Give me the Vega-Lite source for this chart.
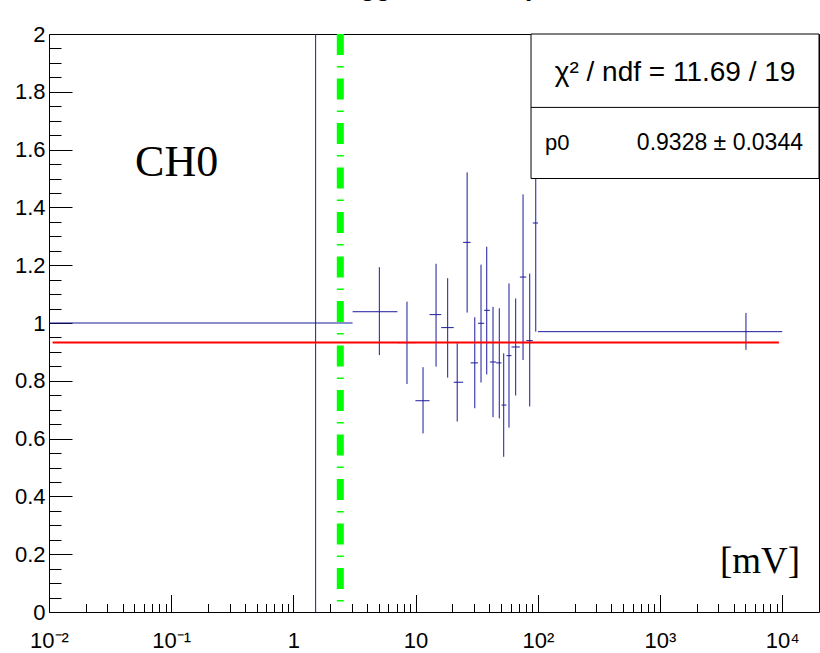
{
  "$schema": "https://vega.github.io/schema/vega-lite/v6.json",
  "width": 770,
  "height": 578,
  "autosize": {"type": "none"},
  "padding": {"left": 49, "top": 34, "right": 1, "bottom": 41},
  "background": "white",
  "title": {
    "text": "Trigger efficiency",
    "font": "Liberation Sans",
    "fontSize": 28,
    "fontWeight": "normal",
    "color": "#000",
    "anchor": "middle",
    "frame": "group",
    "baseline": "alphabetic",
    "offset": 0
  },
  "config": {
    "view": {"stroke": "#000", "strokeWidth": 1},
    "axis": {
      "labelFont": "Liberation Sans",
      "labelFontSize": 22,
      "labelColor": "#000",
      "tickColor": "#000",
      "tickWidth": 1,
      "domain": false,
      "grid": false,
      "zindex": 1
    }
  },
  "datasets": {
    "eff": [
      {"x": 1.52, "xlo": 0.01, "xhi": 3.05, "y": 1.0, "ylo": 0.0, "yhi": 2.0},
      {"x": 5.05, "xlo": 3.05, "xhi": 7.1, "y": 1.039, "ylo": 0.889, "yhi": 1.193},
      {"x": 8.5, "xlo": 7.1, "xhi": 9.96, "y": 0.932, "ylo": 0.789, "yhi": 1.074},
      {"x": 11.5, "xlo": 9.96, "xhi": 13.0, "y": 0.731, "ylo": 0.618, "yhi": 0.847},
      {"x": 14.7, "xlo": 13.0, "xhi": 16.2, "y": 1.029, "ylo": 0.849, "yhi": 1.205},
      {"x": 18.3, "xlo": 16.2, "xhi": 20.5, "y": 0.984, "ylo": 0.811, "yhi": 1.155},
      {"x": 21.9, "xlo": 20.5, "xhi": 24.5, "y": 0.795, "ylo": 0.659, "yhi": 0.93},
      {"x": 26.4, "xlo": 24.5, "xhi": 28.2, "y": 1.279, "ylo": 1.036, "yhi": 1.521},
      {"x": 30.5, "xlo": 28.2, "xhi": 32.4, "y": 0.862, "ylo": 0.705, "yhi": 1.02},
      {"x": 34.3, "xlo": 32.4, "xhi": 36.4, "y": 0.999, "ylo": 0.794, "yhi": 1.202},
      {"x": 38.2, "xlo": 36.4, "xhi": 40.5, "y": 1.044, "ylo": 0.822, "yhi": 1.264},
      {"x": 43.0, "xlo": 40.5, "xhi": 45.6, "y": 0.865, "ylo": 0.674, "yhi": 1.056},
      {"x": 48.4, "xlo": 45.6, "xhi": 50.5, "y": 0.862, "ylo": 0.67, "yhi": 1.051},
      {"x": 52.6, "xlo": 50.5, "xhi": 55.4, "y": 0.716, "ylo": 0.537, "yhi": 0.895},
      {"x": 58.1, "xlo": 55.4, "xhi": 60.9, "y": 0.887, "ylo": 0.638, "yhi": 1.137},
      {"x": 65.9, "xlo": 60.9, "xhi": 71.3, "y": 0.917, "ylo": 0.749, "yhi": 1.085},
      {"x": 75.7, "xlo": 71.3, "xhi": 80.5, "y": 1.159, "ylo": 0.872, "yhi": 1.445},
      {"x": 85.9, "xlo": 80.5, "xhi": 91.0, "y": 0.939, "ylo": 0.711, "yhi": 1.171},
      {"x": 96.2, "xlo": 91.0, "xhi": 100.4, "y": 1.346, "ylo": 0.97, "yhi": 1.722},
      {"x": 5050, "xlo": 100.4, "xhi": 10000, "y": 0.97, "ylo": 0.907, "yhi": 1.035}
    ],
    "one": [{}]
  },
  "layer": [
    {
      "data": {"name": "eff"},
      "mark": {"type": "rule", "color": "#1a1a9c", "strokeWidth": 1, "clip": true},
      "encoding": {
        "x": {
          "field": "x", "type": "quantitative",
          "scale": {"type": "log", "domain": [0.01, 20000], "nice": false},
          "axis": {
            "orient": "bottom", "title": null,
            "values": [0.01, 0.1, 1, 10, 100, 1000, 10000],
            "labelExpr": "datum.value < 0.05 ? '10⁻²' : datum.value < 0.5 ? '10⁻¹' : datum.value < 5 ? '1' : datum.value < 50 ? '10' : datum.value < 500 ? '10²' : datum.value < 5000 ? '10³' : '10⁴'",
            "tickSize": -17.5, "labelPadding": 36,
            "labelFlush": false, "labelOverlap": false, "labelBound": false
          }
        },
        "y": {
          "field": "ylo", "type": "quantitative",
          "scale": {"domain": [0, 2], "nice": false, "zero": false},
          "axis": {
            "orient": "left", "title": null,
            "values": [0, 0.2, 0.4, 0.6, 0.8, 1, 1.2, 1.4, 1.6, 1.8, 2],
            "format": "~g",
            "tickSize": -23, "labelPadding": 27,
            "labelFlush": false, "labelOverlap": false, "labelBound": false
          }
        },
        "y2": {"field": "yhi"}
      }
    },
    {
      "data": {"name": "eff"},
      "mark": {"type": "rule", "color": "#1a1a9c", "strokeWidth": 1, "clip": true},
      "encoding": {
        "x": {"field": "xlo", "type": "quantitative", "axis": null},
        "x2": {"field": "xhi"},
        "y": {"field": "y", "type": "quantitative", "axis": null}
      }
    },
    {
      "data": {"name": "one"},
      "mark": {"type": "rule", "color": "#ff0000", "strokeWidth": 2, "clip": true},
      "encoding": {
        "x": {
          "datum": 0.0107, "type": "quantitative",
          "axis": {
            "orient": "bottom", "title": null, "labels": false,
            "values": [0.02, 0.03, 0.04, 0.05, 0.06, 0.07, 0.08, 0.09, 0.2, 0.3, 0.4, 0.5, 0.6, 0.7, 0.8, 0.9, 2, 3, 4, 5, 6, 7, 8, 9, 20, 30, 40, 50, 60, 70, 80, 90, 200, 300, 400, 500, 600, 700, 800, 900, 2000, 3000, 4000, 5000, 6000, 7000, 8000, 9000],
            "tickSize": -8.5
          }
        },
        "x2": {"datum": 9400},
        "y": {
          "datum": 0.9328, "type": "quantitative",
          "axis": {
            "orient": "left", "title": null, "labels": false,
            "values": [0.05, 0.1, 0.15, 0.25, 0.3, 0.35, 0.45, 0.5, 0.55, 0.65, 0.7, 0.75, 0.85, 0.9, 0.95, 1.05, 1.1, 1.15, 1.25, 1.3, 1.35, 1.45, 1.5, 1.55, 1.65, 1.7, 1.75, 1.85, 1.9, 1.95],
            "tickSize": -12
          }
        }
      }
    },
    {
      "data": {"name": "one"},
      "mark": {"type": "rule", "color": "#00ff00", "strokeWidth": 7, "strokeDash": [21, 11, 1.5, 11], "strokeCap": "butt"},
      "encoding": {
        "x": {"datum": 2.42, "type": "quantitative", "axis": null}
      }
    },
    {
      "data": {"name": "one"},
      "mark": {"type": "rect", "fill": "#ffffff", "stroke": "#000", "strokeWidth": 1},
      "encoding": {
        "x": {"datum": 88, "type": "quantitative", "axis": null},
        "x2": {"datum": 20000},
        "y": {"datum": 1.5, "type": "quantitative", "axis": null},
        "y2": {"datum": 2}
      }
    },
    {
      "data": {"name": "one"},
      "mark": {"type": "rule", "color": "#000", "strokeWidth": 1},
      "encoding": {
        "x": {"datum": 88, "type": "quantitative", "axis": null},
        "x2": {"datum": 20000},
        "y": {"datum": 1.746, "type": "quantitative", "axis": null}
      }
    },
    {
      "data": {"name": "one"},
      "mark": {"type": "text", "text": "χ² / ndf = 11.69 / 19", "font": "Liberation Sans", "fontSize": 28, "align": "center", "baseline": "alphabetic", "color": "#000"},
      "encoding": {
        "x": {"datum": 1327, "type": "quantitative", "axis": null},
        "y": {"datum": 1.838, "type": "quantitative", "axis": null}
      }
    },
    {
      "data": {"name": "one"},
      "mark": {"type": "text", "text": "p0", "font": "Liberation Sans", "fontSize": 22, "align": "left", "baseline": "alphabetic", "color": "#000"},
      "encoding": {
        "x": {"datum": 114.6, "type": "quantitative", "axis": null},
        "y": {"datum": 1.599, "type": "quantitative", "axis": null}
      }
    },
    {
      "data": {"name": "one"},
      "mark": {"type": "text", "text": "0.9328 ± 0.0344", "font": "Liberation Sans", "fontSize": 23, "align": "right", "baseline": "alphabetic", "color": "#000"},
      "encoding": {
        "x": {"datum": 14790, "type": "quantitative", "axis": null},
        "y": {"datum": 1.599, "type": "quantitative", "axis": null}
      }
    },
    {
      "data": {"name": "one"},
      "mark": {"type": "text", "text": "CH0", "font": "Liberation Serif", "fontSize": 44, "align": "left", "baseline": "alphabetic", "color": "#000"},
      "encoding": {
        "x": {"datum": 0.0506, "type": "quantitative", "axis": null},
        "y": {"datum": 1.51, "type": "quantitative", "axis": null}
      }
    },
    {
      "data": {"name": "one"},
      "mark": {"type": "text", "text": "[mV]", "font": "Liberation Serif", "fontSize": 37, "align": "left", "baseline": "alphabetic", "color": "#000"},
      "encoding": {
        "x": {"datum": 3097, "type": "quantitative", "axis": null},
        "y": {"datum": 0.134, "type": "quantitative", "axis": null}
      }
    }
  ],
  "resolve": {"axis": {"x": "independent", "y": "independent"}}
}
